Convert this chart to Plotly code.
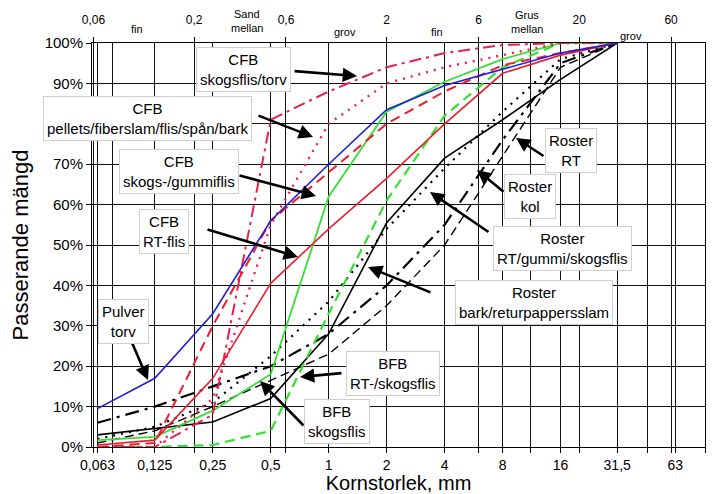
import plotly.graph_objects as go
import math

# ---------------- data ----------------
sizes = [0.063, 0.125, 0.25, 0.5, 1, 2, 4, 8, 16, 31.5]

pulver_torv        = [9.5, 17, 33, 56, 70, 83.5, 89.5, 93.5, 97.5, 100]
cfb_rt_flis        = [0.5, 1.7, 17, 40.5, 54, 66.5, 80, 92.5, 97, 100]
cfb_skogs_gummi    = [0, 1, 30, 56, 68, 80, 88, 94.5, 97.5, 100]
cfb_skogsflis_torv = [0, 0, 8, 81, 88, 94, 97.5, 99.5, 100, 100]
cfb_pellets        = [0, 0, 12, 55, 80, 90, 94, 97, 100, 100]
bfb_skogsflis      = [1.7, 2.5, 9, 18, 62, 83, 90.4, 96, 100, 100]
bfb_rt_skogsflis   = [0, 0, 0.5, 4, 33, 61, 82, 94, 100, 100]
roster_bark        = [3, 4.5, 6.2, 12, 28, 55.5, 71.5, 81, 91, 100]
roster_rt_gummi    = [2, 5, 11, 22.5, 36, 54, 69, 83, 96, 100]
roster_kol         = [6, 10, 15, 20, 28, 40, 55, 76, 95, 100]
roster_rt          = [1, 4, 10, 16.5, 23, 35, 50, 72, 94, 100]

grid_x = [0.06, 0.063, 0.075, 0.125, 0.2, 0.25, 0.5, 0.6, 1, 2, 4, 6, 8, 11.2,
          16, 20, 31.5, 45, 60, 63, 90]
bottom_labels = {0.063: "0,063", 0.125: "0,125", 0.25: "0,25", 0.5: "0,5", 1: "1",
                 2: "2", 4: "4", 8: "8", 16: "16", 31.5: "31,5", 63: "63"}
top_vals = [0.06, 0.2, 0.6, 2, 6, 20, 60]
top_text = ["0,06", "0,2", "0,6", "2", "6", "20", "60"]
y_vals = list(range(0, 101, 10))
# the 80% label is hidden behind a label box in the reference
y_text = ["" if v == 80 else f"{v}%" for v in y_vals]

BLUE = "#1f1fdc"
RED = "#ee1c2e"
PINK = "#e8204e"
GREEN = "#33e033"
BLACK = "#000000"

series = [
    (roster_kol, BLACK, 2.2, "14px,6px,3px,6px"),
    (roster_rt, BLACK, 1.4, "9px,5px"),
    (roster_rt_gummi, BLACK, 2.2, "2px,6px"),
    (roster_bark, BLACK, 1.6, "solid"),
    (bfb_rt_skogsflis, GREEN, 2.2, "10px,6px"),
    (bfb_skogsflis, GREEN, 1.8, "solid"),
    (cfb_pellets, PINK, 2.4, "2px,6px"),
    (cfb_skogsflis_torv, PINK, 2.0, "12px,5px,3px,5px"),
    (cfb_skogs_gummi, RED, 2.0, "10px,6px"),
    (cfb_rt_flis, RED, 1.6, "solid"),
    (pulver_torv, BLUE, 1.6, "solid"),
]

# ---------------- geometry ----------------
# the page body adds an 8px margin, so the figure is 8px smaller and
# reference pixel positions are shifted by 8
OFF = 8
W, H = 724 - OFF, 494 - OFF
L, R, T, B = 92 - OFF, 705 - OFF, 43 - OFF, 447 - OFF
XR = [math.log10(0.059), math.log10(90)]


def paper(px, py):
    px -= OFF
    py -= OFF
    return (px - L) / (R - L), (B - py) / (B - T)


fig = go.Figure()
for vals, col, w, dash in series:
    fig.add_trace(go.Scatter(x=sizes, y=vals, mode="lines",
                             line=dict(color=col, width=w, dash=dash),
                             showlegend=False, hoverinfo="skip"))

# invisible trace for the top axis
fig.add_trace(go.Scatter(x=top_vals, y=[None] * len(top_vals), xaxis="x2",
                         mode="markers", showlegend=False, hoverinfo="skip"))

FONT = "Liberation Sans, Arial, sans-serif"

fig.update_layout(
    width=W, height=H,
    margin=dict(l=L, r=W - R, t=T, b=H - B, pad=0, autoexpand=False),
    paper_bgcolor="white", plot_bgcolor="white",
    font=dict(family=FONT, color="black"),
    xaxis=dict(type="log", range=XR, automargin=False,
               tickmode="array", tickvals=grid_x,
               ticktext=[bottom_labels.get(v, "") for v in grid_x],
               showgrid=True, gridcolor="#111", gridwidth=1,
               ticks="outside", ticklen=5, tickcolor="black",
               tickfont=dict(size=14), showline=True, linecolor="black",
               mirror=True, zeroline=False,
               title=dict(text="Kornstorlek, mm", font=dict(size=20), standoff=7)),
    xaxis2=dict(type="log", range=XR, overlaying="x", side="top", automargin=False,
                tickmode="array", tickvals=top_vals, ticktext=top_text,
                showgrid=False, ticks="outside", ticklen=5, tickcolor="black",
                tickfont=dict(size=12), ticklabelstandoff=8, zeroline=False),
    yaxis=dict(range=[0, 100], automargin=False, tickmode="array",
               tickvals=y_vals, ticktext=y_text,
               showgrid=True, gridcolor="#111", gridwidth=1,
               ticks="outside", ticklen=5, tickcolor="black",
               tickfont=dict(size=15), showline=True, linecolor="black",
               mirror=True, zeroline=False,
               title=dict(text="Passerande mängd", font=dict(size=22))),
)

# top band words
top_words = [("fin", 137, 29), ("Sand", 247, 14), ("mellan", 247, 28), ("grov", 345, 32),
             ("fin", 437, 32), ("Grus", 527, 15), ("mellan", 527, 29), ("grov", 631, 36)]
for txt, px, py in top_words:
    xp, yp = paper(px, py)
    fig.add_annotation(text=txt, x=xp, y=yp, xref="paper", yref="paper",
                       showarrow=False, font=dict(size=11), xanchor="center", yanchor="middle")

# arrows (tail -> head, pixel positions in the reference)
arrows = [((293, 71), (357, 76)), ((257, 115), (313, 137)), ((238, 175), (316, 196)),
          ((206, 229), (298, 257)), ((130, 338), (148, 380)), ((343, 373), (300, 377)),
          ((305, 427), (260, 381)), ((545, 157), (516, 138)), ((505, 193), (477, 170)),
          ((490, 233), (430, 192)), ((432, 293), (368, 267))]
for (tx, ty), (hx, hy) in arrows:
    xp, yp = paper(hx, hy)
    fig.add_annotation(text="", x=xp, y=yp, xref="paper", yref="paper",
                       ax=tx - hx, ay=ty - hy, axref="pixel", ayref="pixel",
                       showarrow=True, arrowhead=2, arrowsize=1.1, arrowwidth=2.6,
                       arrowcolor="black")

boxes = [("CFB<br>skogsflis/torv", 243, 70), ("CFB<br>pellets/fiberslam/flis/spån/bark", 147, 118),
         ("CFB<br>skogs-/gummiflis", 179, 171), ("CFB<br>RT-flis", 164, 231),
         ("Pulver<br>torv", 123, 321), ("BFB<br>RT-/skogsflis", 393, 373),
         ("BFB<br>skogsflis", 337, 421), ("Roster<br>RT", 571, 150),
         ("Roster<br>kol", 530, 196), ("Roster<br>RT/gummi/skogsflis", 562, 248),
         ("Roster<br>bark/returpappersslam", 534, 302)]
for txt, px, py in boxes:
    xp, yp = paper(px, py)
    fig.add_annotation(text=txt, x=xp, y=yp, xref="paper", yref="paper",
                       showarrow=False, font=dict(size=15), align="center",
                       bgcolor="white", bordercolor="#cfcfcf", borderwidth=1, borderpad=3,
                       xanchor="center", yanchor="middle")

fig.write_html("out.html")
